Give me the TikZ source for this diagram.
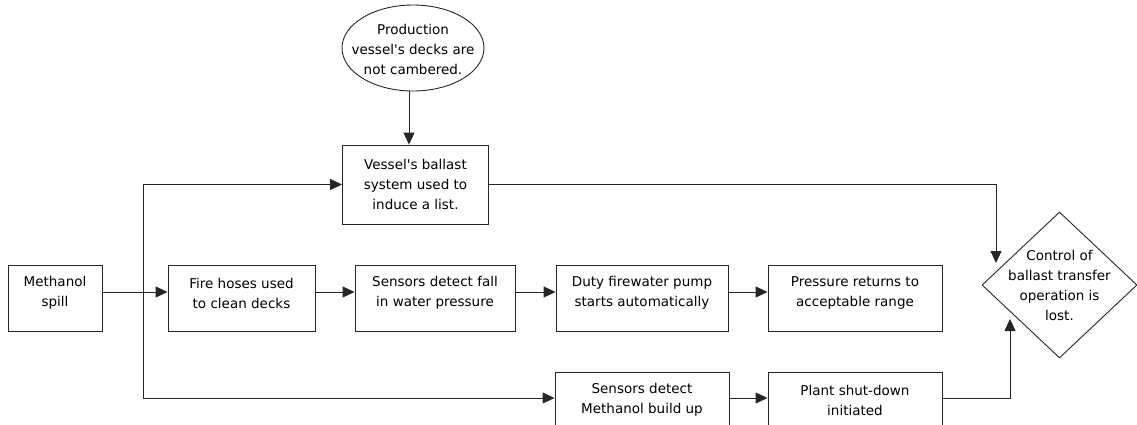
\documentclass[tikz,border=0pt]{standalone}
\usepackage{fontspec}
\setmainfont{DejaVu Sans}
\usetikzlibrary{shapes.geometric,arrows.meta,calc}
\newcommand{\apos}{\textquotesingle}
\begin{document}
\begin{tikzpicture}[x=1pt,y=-1pt,
  font=\fontsize{13.5}{20}\selectfont,
  box/.style={draw=black!85, line width=0.9pt, rectangle, inner sep=0pt, align=center},
  txt/.style={align=center, inner sep=0pt},
  uptxt/.style={align=center, inner sep=0pt, yshift=5pt},
  flow/.style={draw=black!85, line width=0.9pt, -{Triangle[length=12pt,width=11pt]}},
]
\useasboundingbox (0,0) rectangle (1137,424);

% cause and the ballast step
\node[ellipse, draw=black!85, line width=0.9pt, minimum width=142, minimum height=86, inner sep=0pt,
  label={[txt, yshift=-1pt]center:{Production\\vessel\apos s decks are\\not cambered.}}] (prod) at (413,48) {};
\node[box, minimum width=146, minimum height=79] (vessel) at (415.5,184.5)
  {Vessel\apos s ballast\\system used to\\induce a list.};

% main row
\node[box, minimum width=94, minimum height=66,
  label={[uptxt]center:{Methanol\\spill}}] (meth) at (55,298) {};
\node[box, minimum width=147, minimum height=66,
  label={[uptxt]center:{Fire hoses used\\to clean decks}}] (fire) at (241.5,298) {};
\node[box, minimum width=160, minimum height=66,
  label={[uptxt]center:{Sensors detect fall\\in water pressure}}] (sfall) at (435,298) {};
\node[box, minimum width=172, minimum height=66,
  label={[uptxt]center:{Duty firewater pump\\starts automatically}}] (duty) at (642,298) {};
\node[box, minimum width=174, minimum height=66,
  label={[uptxt]center:{Pressure returns to\\acceptable range}}] (press) at (855,298) {};

% lower row
\node[box, minimum width=174, minimum height=66,
  label={[uptxt]center:{Sensors detect\\Methanol build up}}] (smeth) at (642,405) {};
\node[box, minimum width=174, minimum height=66,
  label={[uptxt]center:{Plant shut-down\\initiated}}] (plant) at (855,405) {};

% outcome
\node[diamond, draw=black!85, line width=0.9pt, minimum width=155, minimum height=146, inner sep=0pt,
  label={[txt]center:{Control of\\ballast transfer\\operation is\\lost.}}] (ctrl) at (1059.5,285) {};

% routing points
\coordinate (row) at (0,292);
\coordinate (brow) at (0,398);
\coordinate (split) at (143,292);
\coordinate (drop) at (409,0);
\coordinate (tin) at (996,263);
\coordinate (bin) at (1010,319);

% connectors
\draw[flow] (prod.south -| drop) -- (vessel.north -| drop);
\draw[flow] (meth.east |- row) -- (fire.west |- row);
\draw[flow] (split) |- (vessel.west);
\draw[flow] (split) |- (smeth.west |- brow);
\draw[flow] (fire.east |- row) -- (sfall.west |- row);
\draw[flow] (sfall.east |- row) -- (duty.west |- row);
\draw[flow] (duty.east |- row) -- (press.west |- row);
\draw[flow] (smeth.east |- brow) -- (plant.west |- brow);
\draw[flow] (plant.east |- brow) -| (bin);
\draw[flow] (vessel.east) -| (tin);
\end{tikzpicture}
\end{document}
